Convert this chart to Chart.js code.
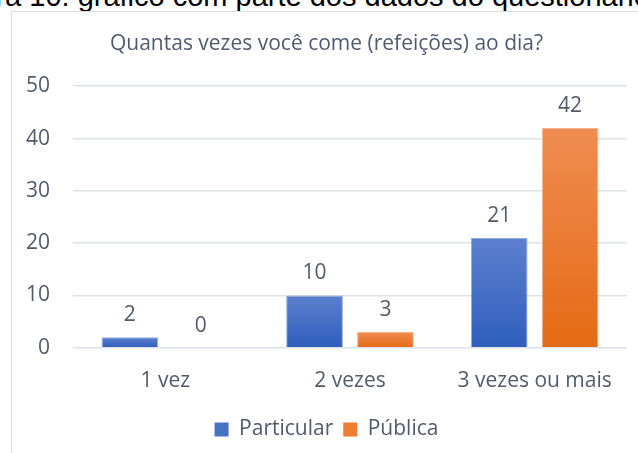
<!DOCTYPE html>
<html>
<head>
<meta charset="utf-8">
<script src="https://cdn.jsdelivr.net/npm/chart.js@4"></script>
<style>
  html, body { margin: 0; padding: 0; background: #fff; }
  body { width: 638px; height: 453px; position: relative; overflow: hidden; }
  #caption {
    position: absolute; left: -61px; top: -18px; white-space: nowrap;
    font: 29px/1 "Liberation Sans", Arial, sans-serif; color: #000;
  }
  #box {
    position: absolute; left: 11px; top: 11px; width: 627px; height: 442px;
    border-left: 1px solid #d9dee6; border-top: 1px solid #d9dee6; background: #fff;
  }
  #box canvas { display: block; }
</style>
</head>
<body>
<div id="caption">Figura 10: gráfico com parte dos dados do questionário</div>
<div id="box"><canvas id="chart" width="626" height="441"></canvas></div>
<script>
const categories = ["1 vez", "2 vezes", "3 vezes ou mais"];
const particular = [2, 10, 21];
const publica = [0, 3, 42];
const yTicks = [0, 10, 20, 30, 40, 50];

const FONT = "'Open Sans', sans-serif";
const TEXT = "#525b6b";

// Excel-like vertical gradient, one per bar
function barGradient(light, dark) {
    return (ctx) => {
        const chart = ctx.chart;
        if (!chart.chartArea || ctx.type !== "data") return dark;
        const y = chart.scales.y;
        const top = y.getPixelForValue(ctx.raw);
        const base = y.getPixelForValue(0);
        if (base - top < 1) return dark;
        const g = chart.ctx.createLinearGradient(0, top, 0, base);
        g.addColorStop(0, light);
        g.addColorStop(1, dark);
        return g;
    };
}

const valueLabels = {
    id: "valueLabels",
    afterDatasetsDraw(chart) {
        const c = chart.ctx;
        c.save();
        c.font = "21px " + FONT;
        c.fillStyle = TEXT;
        c.textAlign = "center";
        c.textBaseline = "middle";
        chart.data.datasets.forEach((ds, i) => {
            chart.getDatasetMeta(i).data.forEach((bar, j) => {
                c.fillText(String(ds.data[j]), bar.x, bar.y - 22);
            });
        });
        c.restore();
    }
};

new Chart(document.getElementById("chart"), {
    type: "bar",
    data: {
        labels: categories,
        datasets: [{
            label: "Particular",
            data: particular,
            backgroundColor: barGradient("#5c80cd", "#2f5ebe"),
            borderColor: "rgba(120,150,215,0.8)",
            borderWidth: 1,
            categoryPercentage: 0.768,
            barPercentage: 0.8,
        }, {
            label: "Pública",
            data: publica,
            backgroundColor: barGradient("#f08c52", "#e46b14"),
            borderColor: "rgba(245,160,110,0.8)",
            borderWidth: 1,
            categoryPercentage: 0.768,
            barPercentage: 0.8,
        }]
    },
    options: {
        responsive: false,
        animation: false,
        layout: { padding: { left: 14, right: 11, top: 0, bottom: 3 } },
        scales: {
            x: {
                grid: { display: false },
                border: { display: false },
                ticks: { font: { family: FONT, size: 21 }, color: TEXT, padding: 13 },
                afterFit: (s) => { s.height += 2; },
            },
            y: {
                min: 0,
                max: 50,
                afterBuildTicks: (s) => { s.ticks = yTicks.map(v => ({ value: v })); },
                afterFit: (s) => { s.width = 47; },
                grid: { color: "#dde1e8", lineWidth: 1.5, drawTicks: false },
                border: { display: false },
                ticks: { font: { family: FONT, size: 21 }, color: TEXT, padding: 23 },
            },
        },
        plugins: {
            title: {
                display: true,
                text: "Quantas vezes você come (refeições) ao dia?",
                font: { family: FONT, size: 21, weight: "normal" },
                color: TEXT,
                padding: { top: 19, bottom: 30 },
            },
            legend: {
                position: "bottom",
                labels: {
                    font: { family: FONT, size: 21 },
                    color: TEXT,
                    boxWidth: 14,
                    boxHeight: 14,
                    padding: 10,
                    generateLabels: (chart) => chart.data.datasets.map((ds, i) => ({
                        text: ds.label,
                        fillStyle: i === 0 ? "#4472c4" : "#ed7d31",
                        strokeStyle: "transparent",
                        lineWidth: 0,
                        datasetIndex: i,
                        fontColor: TEXT,
                    })),
                },
            },
            tooltip: { enabled: false },
        },
    },
    plugins: [valueLabels],
});
</script>
</body>
</html>
